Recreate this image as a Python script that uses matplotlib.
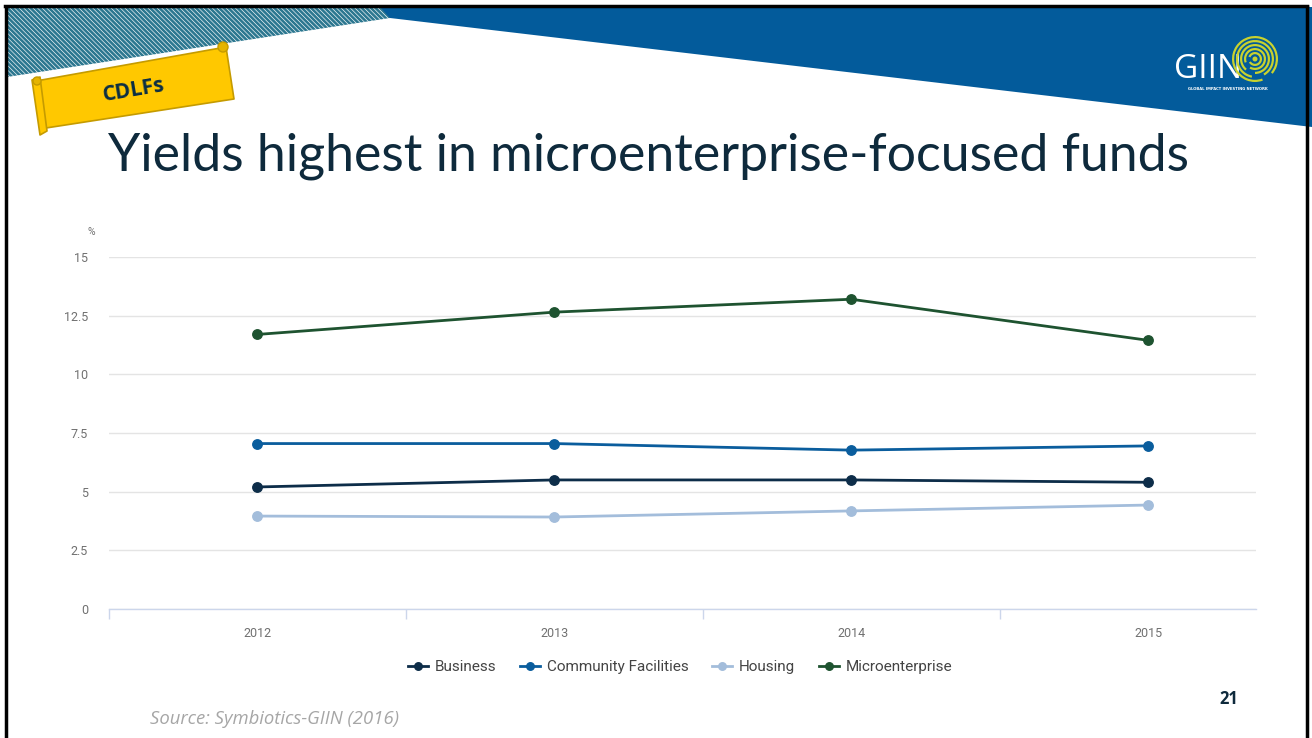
import numpy as np
import matplotlib
matplotlib.use("Agg")
import matplotlib.pyplot as plt
from matplotlib.patches import Polygon, Circle, Wedge
from matplotlib.lines import Line2D

# ---- data -------------------------------------------------------------
years = ["2012", "2013", "2014", "2015"]
business = [5.2, 5.5, 5.5, 5.4]
community_facilities = [7.05, 7.05, 6.77, 6.95]
housing = [3.96, 3.92, 4.18, 4.43]
microenterprise = [11.7, 12.65, 13.2, 11.45]

series_names = ["Business", "Community Facilities", "Housing", "Microenterprise"]
series_colors = ["#0d2d49", "#0a5d9d", "#a3bddb", "#1e5330"]
y_ticks = [0, 2.5, 5, 7.5, 10, 12.5, 15]
y_tick_labels = ["0", "2.5", "5", "7.5", "10", "12.5", "15"]

title_text = "Yields highest in microenterprise-focused funds"
badge_text = "CDLFs"
source_text = "Source: Symbiotics-GIIN (2016)"
page_number = "21"

W, H = 1312, 738
fig = plt.figure(figsize=(W / 100, H / 100), dpi=100)
fig.patch.set_facecolor("white")

# ---- slide decoration layer (pixel coordinates, y downwards) -----------
bg = fig.add_axes([0, 0, 1, 1])
bg.set_xlim(0, W)
bg.set_ylim(H, 0)
bg.axis("off")

# hatched strip at the top-left
hatch_poly = Polygon([(7, 7), (400, 7), (390, 18), (7, 77)], closed=True,
                     facecolor="white", edgecolor="none", zorder=1)
bg.add_patch(hatch_poly)
for x0 in np.arange(-120, 420, 4.6):
    ln = Line2D([x0, x0 + 120], [0, 120], color="#2c7790", lw=1.9, zorder=2)
    ln.set_clip_path(hatch_poly)
    bg.add_line(ln)

# blue band across the top
bg.add_patch(Polygon([(380, 7), (W, 7), (W, 127), (390, 18)], closed=True,
                     facecolor="#035b9b", edgecolor="none", zorder=3))

# slide frame
bg.plot([6, 6], [5, H], color="black", lw=2.5, zorder=10, solid_capstyle="butt")
bg.plot([5, 1307], [5.5, 5.5], color="black", lw=2.5, zorder=10)
bg.plot([1307, 1307], [5, H], color="black", lw=2.5, zorder=10, solid_capstyle="butt")

# GIIN logo
bg.text(1208, 70, "GIIN", color="white", fontsize=24, family="Open Sans",
        ha="center", va="center", zorder=5)
for r, th1, th2 in [(23, 70, 40), (19, 100, 60), (15, 130, 90), (11, 160, 120), (7, 200, 150)]:
    bg.add_patch(Wedge((1255, 59), r, th1, th2 + 360 if th2 < th1 else th2, width=2.2,
                       facecolor="#c9d22e", edgecolor="none", zorder=5))
bg.add_patch(Circle((1255, 59), 2.5, facecolor="#c9d22e", edgecolor="none", zorder=5))
bg.text(1228, 89, "GLOBAL IMPACT INVESTING NETWORK", color="white", fontsize=2.7,
        family="DejaVu Sans", weight="bold", ha="center", va="center", zorder=5)

# yellow scroll badge
gold_edge = "#c59b00"
bg.add_patch(Polygon([(36, 81), (226, 47), (234, 99), (46, 128)], closed=True,
                     facecolor="#ffc800", edgecolor=gold_edge, lw=1.2, zorder=6,
                     joinstyle="round"))
bg.add_patch(Polygon([(32, 80), (40, 77), (47, 131), (40, 135)], closed=True,
                     facecolor="#ffc800", edgecolor=gold_edge, lw=1.2, zorder=7,
                     joinstyle="round"))
bg.add_patch(Circle((37, 81), 4, facecolor="#e5b400", edgecolor=gold_edge, lw=1, zorder=8))
bg.add_patch(Circle((223, 47), 5, facecolor="#e5b400", edgecolor=gold_edge, lw=1, zorder=8))
bg.text(134, 90, badge_text, color="#0b2e44", fontsize=15, family="Open Sans",
        weight="bold", rotation=9.5, ha="center", va="center", zorder=9,
        rotation_mode="anchor")

# headline
title = bg.text(108, 170, title_text, color="#0e2a3c", fontsize=44,
                family="Lato", weight="normal", ha="left", va="baseline", zorder=5)

# footer texts
src = bg.text(150, 719, source_text, color="#a6a6a6", fontsize=12,
              family="Open Sans", style="italic", ha="left", va="center", zorder=5)
bg.text(1229, 699, page_number, color="#0e2a3c", fontsize=12, family="Open Sans",
        weight="bold", ha="center", va="center", zorder=5)

# ---- chart ------------------------------------------------------------
left, right, top, bottom = 109, 1256, 257, 609
ax = fig.add_axes([left / W, (H - bottom) / H, (right - left) / W, (bottom - top) / H])
ax.set_facecolor("none")
x = np.arange(len(years))
for vals, name, col in zip([business, community_facilities, housing, microenterprise],
                           series_names, series_colors):
    ax.plot(x, vals, color=col, lw=2, marker="o", markersize=6.8, label=name,
            zorder=3, clip_on=False)

ax.set_ylim(0, 15)
ax.set_xlim(-148 / 297, (right - 257) / 297)
ax.set_yticks(y_ticks)
ax.set_yticklabels(y_tick_labels)
ax.grid(axis="y", color="#e4e4e4", lw=1)
ax.set_axisbelow(True)
for s in ["top", "right", "left"]:
    ax.spines[s].set_visible(False)
ax.spines["bottom"].set_color("#ccd6eb")
ax.spines["bottom"].set_linewidth(1)
ax.set_xticks(x)
ax.set_xticklabels(years)
ax.set_xticks([-0.5, 0.5, 1.5, 2.5], minor=True)
ax.tick_params(axis="x", which="major", length=0, pad=13, labelsize=9,
               labelcolor="#707070")
ax.tick_params(axis="x", which="minor", length=7.5, color="#ccd6eb", width=1)
ax.tick_params(axis="y", length=0, pad=15, labelsize=9, labelcolor="#707070")
for lab in ax.get_xticklabels() + ax.get_yticklabels():
    lab.set_family("Roboto")
ax.text(-0.015, 1.071, "%", transform=ax.transAxes, fontsize=7.5, color="#707070",
        family="Roboto", ha="center", va="center")

leg = fig.legend(loc="center", bbox_to_anchor=(680 / W, (H - 667) / H), ncol=4,
                 frameon=False, handlelength=1.3, handletextpad=0.45,
                 columnspacing=1.55, prop={"family": "Roboto", "size": 11},
                 markerscale=0.8)
for t in leg.get_texts():
    t.set_color("#444444")

# size the headline and source line to their intended widths
fig.canvas.draw()
r = fig.canvas.get_renderer()
for t, target in [(title, 1192 - 108), (src, 398 - 150)]:
    w = t.get_window_extent(r).width
    t.set_fontsize(t.get_fontsize() * target / w)

fig.savefig("out.png", dpi=100, facecolor="white")
